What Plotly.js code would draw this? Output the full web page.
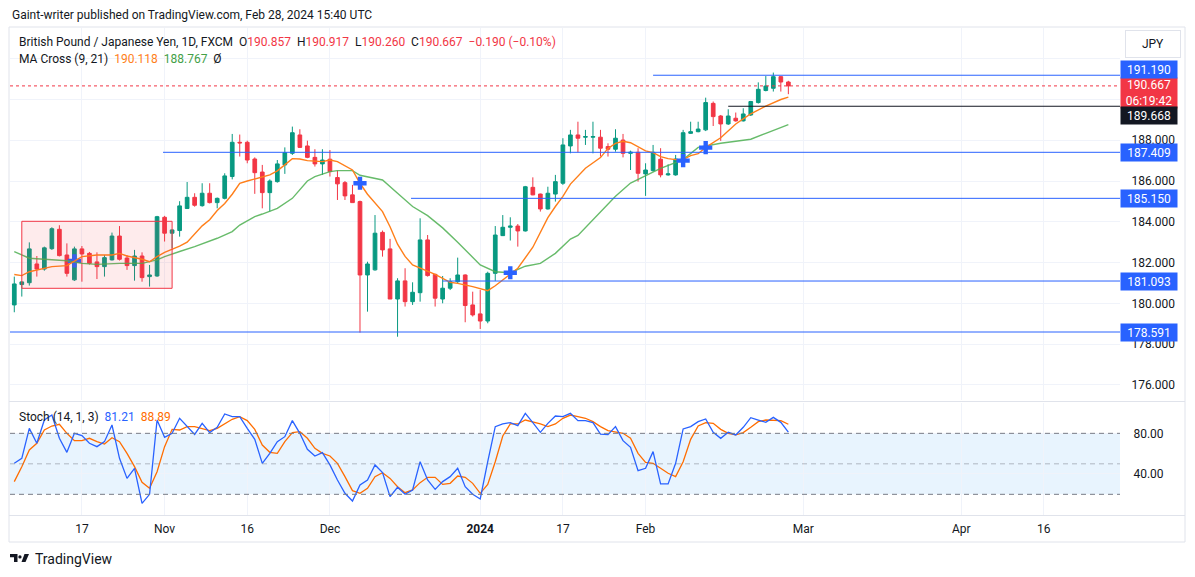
<!DOCTYPE html>
<html><head><meta charset="utf-8">
<script src="https://cdn.plot.ly/plotly-3.0.1.min.js"></script>
<style>html,body{margin:0;padding:0;background:#fff;overflow:hidden}#chart{width:1195px;height:577px}</style>
</head><body><div id="chart"></div>
<script>
// ---------- DATA ----------
const dates = ['2023-10-04','2023-10-05','2023-10-06','2023-10-09','2023-10-10','2023-10-11','2023-10-12','2023-10-13','2023-10-16','2023-10-17','2023-10-18','2023-10-19','2023-10-20','2023-10-23','2023-10-24','2023-10-25','2023-10-26','2023-10-27','2023-10-30','2023-10-31',
'2023-11-01','2023-11-02','2023-11-03','2023-11-06','2023-11-07','2023-11-08','2023-11-09','2023-11-10','2023-11-13','2023-11-14','2023-11-15','2023-11-16','2023-11-17','2023-11-20','2023-11-21','2023-11-22','2023-11-23','2023-11-24','2023-11-27','2023-11-28','2023-11-29','2023-11-30',
'2023-12-01','2023-12-04','2023-12-05','2023-12-06','2023-12-07','2023-12-08','2023-12-11','2023-12-12','2023-12-13','2023-12-14','2023-12-15','2023-12-18','2023-12-19','2023-12-20','2023-12-21','2023-12-22','2023-12-26','2023-12-27','2023-12-28','2023-12-29',
'2024-01-02','2024-01-03','2024-01-04','2024-01-05','2024-01-08','2024-01-09','2024-01-10','2024-01-11','2024-01-12','2024-01-15','2024-01-16','2024-01-17','2024-01-18','2024-01-19','2024-01-22','2024-01-23','2024-01-24','2024-01-25','2024-01-26','2024-01-29','2024-01-30','2024-01-31',
'2024-02-01','2024-02-02','2024-02-05','2024-02-06','2024-02-07','2024-02-08','2024-02-09','2024-02-12','2024-02-13','2024-02-14','2024-02-15','2024-02-16','2024-02-19','2024-02-20','2024-02-21','2024-02-22','2024-02-23','2024-02-26','2024-02-27','2024-02-28'];

const opens = [179.92,180.92,181.01,181.93,181.68,182.68,183.63,182.37,181.15,182.67,
182.45,182.03,181.80,182.13,183.30,182.22,181.85,182.32,181.31,181.34,
184.22,183.44,183.57,184.65,185.20,184.79,185.40,184.94,185.15,186.22,
187.90,187.90,187.08,186.44,185.43,185.97,186.79,187.36,188.26,187.72,
187.16,186.84,187.07,186.17,185.92,185.32,184.99,181.39,181.64,183.48,
182.67,180.21,181.10,180.08,180.52,183.11,181.42,180.21,180.74,181.06,
181.39,179.92,179.48,179.13,181.47,183.32,183.73,183.79,183.55,185.69,
185.36,184.63,185.36,185.89,187.72,188.26,188.15,188.15,188.15,187.69,
187.56,188.01,187.36,187.41,186.35,186.51,187.07,186.30,186.30,187.07,
188.34,188.42,188.51,189.81,189.19,188.80,189.08,188.95,189.24,189.85,
190.44,190.55,191.12,190.857];
const highs = [181.31,181.08,182.99,182.32,182.78,183.73,183.83,182.94,182.78,182.81,
182.52,182.50,182.37,183.47,183.79,182.37,182.62,182.50,181.88,184.29,
184.29,183.63,185.01,185.95,185.40,185.89,185.89,185.19,186.38,188.31,
188.28,187.98,187.16,186.79,186.08,187.03,187.65,188.67,188.54,187.98,
187.56,187.56,187.52,186.51,186.00,185.81,185.04,182.04,184.33,183.57,
183.16,181.23,181.72,181.03,184.17,183.35,181.45,181.34,181.23,182.24,
181.42,180.57,180.65,181.55,183.79,184.33,184.22,183.89,185.76,186.18,
185.38,185.72,186.30,188.10,188.51,188.91,188.51,188.91,188.51,187.85,
188.54,188.31,187.49,187.61,186.87,187.77,187.61,186.82,187.28,188.51,
188.91,188.91,190.09,189.90,189.24,189.52,189.36,189.57,189.93,190.84,
191.15,191.32,191.15,190.917];
const lows = [179.56,180.33,180.87,181.31,181.60,182.62,182.30,181.31,181.10,181.06,
181.90,181.19,181.31,182.10,182.10,181.64,181.11,181.06,180.82,181.30,
183.03,182.70,183.27,184.64,184.74,184.74,184.90,184.66,185.10,186.08,
187.20,186.87,185.37,184.66,184.50,185.92,186.35,187.28,187.62,187.12,
186.71,186.30,186.22,185.07,185.07,184.94,178.56,179.59,181.60,182.29,
180.21,178.36,179.84,179.92,180.08,181.31,179.84,180.00,180.65,180.98,
179.07,179.35,178.74,179.02,181.10,183.30,183.08,182.78,183.52,185.30,
184.50,184.60,184.99,185.81,187.36,187.41,187.77,187.36,187.20,187.20,
187.44,187.16,186.54,185.97,185.27,186.46,186.18,186.26,186.26,186.74,
188.31,188.39,188.45,188.70,187.97,188.75,188.91,188.92,189.19,189.80,
190.40,190.39,190.39,190.260];
const closes = [180.95,181.05,182.67,181.68,182.72,183.66,182.34,181.47,182.67,182.42,
181.96,181.80,182.24,183.30,182.16,181.85,182.32,181.26,181.39,184.25,
183.44,183.60,184.78,185.20,184.81,185.40,184.94,185.15,186.25,187.90,
187.87,187.03,186.41,185.43,186.00,186.84,187.39,188.37,187.65,187.16,
186.84,187.03,186.46,185.86,185.27,184.94,181.39,181.93,183.44,182.62,
180.21,181.10,180.08,180.54,183.11,181.36,180.25,180.74,181.06,181.39,
179.89,179.43,179.13,181.47,183.35,183.73,183.79,183.55,185.72,185.32,
184.63,185.40,185.97,187.77,188.26,188.10,188.18,188.18,187.61,187.56,
188.10,187.36,187.41,186.38,186.54,187.41,186.30,186.35,187.08,188.37,
188.42,188.55,189.85,189.16,188.80,189.19,188.95,189.29,189.90,190.50,
190.66,191.12,190.857,190.667];

// MA Cross (9, 21) lines (null = not read at that bar)
const ma9 = [181.41,181.36,181.55,null,181.72,181.80,null,181.85,null,182.29,
null,182.37,null,182.37,182.45,182.32,null,182.16,182.04,182.29,
182.50,null,182.80,183.00,null,183.80,184.10,184.55,184.90,185.35,
185.89,186.00,null,186.22,186.30,186.50,null,187.10,187.08,187.00,
null,186.95,187.03,186.95,null,186.54,185.89,185.35,null,184.50,
183.76,182.90,182.30,181.88,181.72,null,181.42,null,181.03,180.98,
null,180.82,null,180.62,180.86,null,181.44,181.72,null,182.75,
null,184.20,184.75,185.25,185.85,null,186.63,null,187.15,187.60,
187.85,187.95,187.88,null,187.48,187.39,187.20,187.10,187.05,187.05,
187.25,187.34,187.65,null,188.12,null,188.80,189.05,189.30,null,
189.68,null,190.00,190.118];
const ma21 = [182.54,182.37,182.21,null,182.16,null,null,182.09,null,181.96,
null,181.91,null,null,181.96,null,null,181.96,null,182.13,
182.29,null,182.54,null,182.78,null,null,183.19,null,183.52,
183.84,null,184.25,184.38,null,184.66,null,185.15,null,186.00,
186.22,null,186.46,186.51,null,186.51,186.28,null,null,186.05,
null,185.40,null,184.75,null,184.30,null,183.70,null,183.00,
null,null,181.88,null,181.55,null,181.50,null,181.82,null,
181.96,null,182.45,null,183.15,183.33,null,184.09,184.45,null,
185.25,null,185.90,null,null,186.46,186.62,null,null,187.05,
null,187.65,null,null,187.85,null,null,null,188.05,null,
188.34,null,null,188.767];

// Stoch (14, 1, 3)
const stochK = [50.5,55.4,84.9,70.2,93.1,98.0,75.1,61.3,80.0,77.7,
70.2,66.9,71.8,88.2,55.4,35.7,45.6,11.1,20.0,93.1,
76.1,80.0,94.8,86.6,79.0,89.8,80.7,85.9,99.0,96.4,
96.4,84.9,74.1,50.5,60.3,71.8,76.7,92.5,80.0,64.3,
57.7,61.0,48.9,34.1,21.0,13.4,29.2,34.1,48.9,41.3,
17.7,26.9,20.0,24.3,52.1,34.1,24.9,32.5,37.4,45.6,
27.5,20.0,15.4,52.1,86.6,89.2,90.5,87.5,99.7,90.5,
81.0,89.8,97.0,96.4,99.7,92.5,92.5,90.5,79.3,78.7,
86.6,72.8,66.2,43.3,45.6,62.0,30.2,30.2,50.5,84.3,
86.6,91.5,94.1,81.0,75.1,81.0,78.4,85.9,95.4,93.1,
90.8,95.7,90.8,81.21];
const stochD = [32.5,47.2,63.6,70.2,83.3,87.2,88.9,80.0,72.8,72.8,
75.1,71.8,69.5,75.7,71.8,60.3,47.2,31.8,25.9,42.3,
66.9,83.9,83.3,86.6,86.6,84.9,82.6,84.9,89.2,93.8,
96.4,92.5,83.9,68.5,61.3,60.3,71.8,80.7,81.6,75.1,
65.2,60.3,57.7,50.5,37.4,23.6,21.0,25.9,37.4,41.3,
35.7,27.5,21.6,24.3,31.5,36.7,36.7,29.8,30.8,38.0,
36.7,30.8,21.0,29.8,52.1,77.4,89.2,89.2,93.1,91.5,
89.2,86.6,89.2,94.8,98.0,96.4,94.8,91.5,86.6,82.6,
81.0,80.0,75.1,60.3,51.5,50.5,45.6,40.7,37.4,52.1,
74.1,87.2,90.5,89.8,83.9,80.0,78.4,80.7,85.9,91.5,
93.1,93.1,92.5,88.89];

// MA cross markers
const crossDates = ['2023-12-07','2024-01-08','2024-02-08','2024-02-13'];
const crossPrices = [185.89,181.50,187.00,187.64];
const hiddenCrossDates = ['2023-10-16'];
const hiddenCrossPrices = [182.08];

// Drawn horizontal levels
const levelPrices = [191.190,187.409,185.150,181.093,178.591];
const levelStarts = ['2024-02-02 12:00','2023-11-01 07:00','2023-12-18 07:00','2023-12-22 12:00','2023-10-01 12:00'];
const supportPrice = 189.668;
const supportStart = '2024-02-16 12:00';
// Consolidation rectangle
const rectDates = ['2023-10-05 12:00','2023-11-02 12:00'];
const rectPrices = [180.736,184.023];

// Axis ticks
const xTickDates = ['2023-10-17','2023-11-01','2023-11-16','2023-12-01','2024-01-02','2024-01-17','2024-02-01','2024-03-01','2024-04-01','2024-04-16'];
const xTickText = ['17','Nov','16','Dec','<b>2024</b>','17','Feb','Mar','Apr','16'];
const priceTicks = [176,178,180,182,184,186,188,190,192];
const priceTickShown = [true,true,true,true,true,true,true,false,false];
const stochTicks = [40,80];
const countdown = '06:19:42';
const author = 'Gaint-writer published on TradingView.com, Feb 28, 2024 15:40 UTC';
const symbolTitle = 'British Pound / Japanese Yen, 1D, FXCM';

// ---------- LAYOUT HELPERS ----------
const L = 10, R = 1120, T = 28, B = 515;
const px = x => (x - L) / (R - L);
const py = y => (B - y) / (B - T);
const noon = d => d + ' 12:00';
const FONT = 'Roboto, "Liberation Sans", Arial, sans-serif';
const UP = '#089981', DOWN = '#f23645', BLUE = '#2962ff', ORANGE = '#ff7f1a', DARK = '#131722';

const xs = dates.map(noon);
const n = closes.length;

const traces = [
  {type:'scatter', mode:'markers', x: hiddenCrossDates.map(noon), y: hiddenCrossPrices, xaxis:'x', yaxis:'y',
   marker:{symbol:'cross', size:11, color:BLUE, line:{width:0}}, hoverinfo:'skip'},
  {type:'candlestick', x: xs, open: opens, high: highs, low: lows, close: closes, xaxis:'x', yaxis:'y',
   increasing:{line:{color:UP, width:1}, fillcolor:UP}, decreasing:{line:{color:DOWN, width:1}, fillcolor:DOWN},
   whiskerwidth:0, hoverinfo:'skip'},
  {type:'scatter', mode:'lines', x: xs, y: ma21, connectgaps:true, xaxis:'x', yaxis:'y',
   line:{color:'rgba(76,175,80,0.85)', width:1.4}, hoverinfo:'skip'},
  {type:'scatter', mode:'lines', x: xs, y: ma9, connectgaps:true, xaxis:'x', yaxis:'y',
   line:{color:ORANGE, width:1.4}, hoverinfo:'skip'},
  {type:'scatter', mode:'markers', x: crossDates.map(noon), y: crossPrices, xaxis:'x', yaxis:'y',
   marker:{symbol:'cross', size:11, color:BLUE, line:{width:0}}, hoverinfo:'skip'},
  {type:'scatter', mode:'lines', x: xs, y: stochD, xaxis:'x', yaxis:'y2',
   line:{color:'#ff6d00', width:1.3}, hoverinfo:'skip'},
  {type:'scatter', mode:'lines', x: xs, y: stochK, xaxis:'x', yaxis:'y2',
   line:{color:BLUE, width:1.3}, hoverinfo:'skip'}
];

const shapes = [
  {type:'rect', xref:'paper', x0:0, x1:1, yref:'y2', y0:20, y1:80, fillcolor:'rgba(33,150,243,0.1)', line:{width:0}, layer:'below'},
  {type:'line', xref:'paper', x0:0, x1:1, yref:'y2', y0:80, y1:80, line:{color:'#787b86', width:1, dash:'5px,4px'}},
  {type:'line', xref:'paper', x0:0, x1:1, yref:'y2', y0:50, y1:50, line:{color:'rgba(120,123,134,0.5)', width:1, dash:'5px,4px'}},
  {type:'line', xref:'paper', x0:0, x1:1, yref:'y2', y0:20, y1:20, line:{color:'#787b86', width:1, dash:'5px,4px'}},
  {type:'rect', xref:'x', yref:'y', x0:rectDates[0], x1:rectDates[1], y0:rectPrices[0], y1:rectPrices[1],
   fillcolor:'rgba(242,54,69,0.1)', line:{color:'#f23645', width:1}},
  {type:'line', xref:'paper', x0:0, x1:1, yref:'y', y0:closes[n-1], y1:closes[n-1], line:{color:'#f23645', width:1, dash:'dot'}},
  {type:'line', xref:'x', yref:'y', x0:supportStart, x1:'2024-05-10 12:00', y0:supportPrice, y1:supportPrice, line:{color:DARK, width:1}},
  // pane separator and frame
  {type:'line', xref:'paper', yref:'paper', x0:px(9), x1:px(1185), y0:py(401.5), y1:py(401.5), line:{color:'#e0e3eb', width:1}},
  {type:'line', xref:'paper', yref:'paper', x0:px(9), x1:px(1185), y0:py(515.5), y1:py(515.5), line:{color:'#e0e3eb', width:1}},
  {type:'rect', xref:'paper', yref:'paper', x0:px(9), x1:px(1185), y0:py(542), y1:py(27), line:{color:'#e0e3eb', width:1}},
  // TradingView logo
  {type:'path', xref:'paper', yref:'paper', fillcolor:DARK, line:{width:0},
   path:`M${px(10)},${py(554)} L${px(17.5)},${py(554)} L${px(17.5)},${py(562)} L${px(14)},${py(562)} L${px(14)},${py(557.3)} L${px(10)},${py(557.3)} Z`},
  {type:'circle', xref:'paper', yref:'paper', fillcolor:DARK, line:{width:0}, x0:px(18.3), x1:px(21.6), y0:py(558.6), y1:py(555.3)},
  {type:'path', xref:'paper', yref:'paper', fillcolor:DARK, line:{width:0},
   path:`M${px(24.5)},${py(554)} L${px(29)},${py(554)} L${px(25.5)},${py(562)} L${px(21.5)},${py(562)} Z`}
];
levelPrices.forEach((p, i) => {
  shapes.push({type:'line', xref:'x', yref:'y', x0:levelStarts[i], x1:'2024-05-10 12:00', y0:p, y1:p, line:{color:BLUE, width:1}});
});

// price scale label boxes
const sp = '\u00a0';
const fmt3 = v => v.toFixed(3);
const lastO = opens[n-1], lastH = highs[n-1], lastL = lows[n-1], lastC = closes[n-1];
const chg = lastC - closes[n-2];
const pct = chg / closes[n-2] * 100;
const red = t => `<span style="color:#f23645">${t}</span>`;

const labelBox = (price, text, bg, shift, h) => ({
  xref:'paper', x:1, xanchor:'left', xshift:0, yref:'y', y:price, yanchor:'middle', yshift:shift,
  text:text, showarrow:false, bgcolor:bg, font:{color:'#ffffff', size:12, family:FONT},
  width:52, height:h||13, borderpad:2, align:'center'
});
const levelShifts = [6, 0, 0, 0, 0];

const annotations = [
  {xref:'paper', yref:'paper', x:px(10), y:py(14.5), xanchor:'left', yanchor:'middle', showarrow:false,
   text:author, font:{size:12, color:DARK, family:FONT}},
  {xref:'paper', yref:'paper', x:px(17), y:py(42), xanchor:'left', yanchor:'middle', showarrow:false,
   text: symbolTitle + sp+sp + 'O' + red(fmt3(lastO)) + sp+sp + 'H' + red(fmt3(lastH)) + sp+sp + 'L' + red(fmt3(lastL)) + sp+sp + 'C' + red(fmt3(lastC)) + sp+sp +
     red((chg<0?'\u2212':'+') + Math.abs(chg).toFixed(3) + ' (' + (pct<0?'\u2212':'+') + Math.abs(pct).toFixed(2) + '%)'),
   font:{size:12, color:DARK, family:FONT}},
  {xref:'paper', yref:'paper', x:px(17), y:py(58.5), xanchor:'left', yanchor:'middle', showarrow:false,
   text:'MA Cross (9, 21)' + sp+sp + `<span style="color:${ORANGE}">${fmt3(ma9[n-1])}</span>` + sp+sp + `<span style="color:#43a047">${fmt3(ma21[n-1])}</span>` + sp+sp + '\u00d8',
   font:{size:12, color:DARK, family:FONT}},
  {xref:'paper', yref:'paper', x:px(17), y:py(416.5), xanchor:'left', yanchor:'middle', showarrow:false,
   text:'Stoch (14, 1, 3)' + sp+sp + `<span style="color:${BLUE}">${stochK[n-1].toFixed(2)}</span>` + sp+sp + `<span style="color:#ff6d00">${stochD[n-1].toFixed(2)}</span>`,
   font:{size:12, color:DARK, family:FONT}},
  {xref:'paper', yref:'paper', x:px(1125), y:py(44), xanchor:'left', yanchor:'middle', showarrow:false,
   text:'JPY', bgcolor:'#ffffff', bordercolor:'#e0e3eb', borderwidth:1, borderpad:3, width:48, height:20,
   font:{size:12, color:DARK, family:FONT}},
  {xref:'paper', yref:'paper', x:px(33), y:py(559), xanchor:'left', yanchor:'middle', showarrow:false,
   text:'TradingView', font:{size:14, color:DARK, family:FONT}},
  labelBox(lastC, fmt3(lastC) + '<br>' + countdown, '#f23645', 8 - 15, 26),
  labelBox(supportPrice, fmt3(supportPrice), DARK, -9.5)
];
levelPrices.forEach((p, i) => annotations.push(labelBox(p, fmt3(p), BLUE, levelShifts[i])));

const layout = {
  width:1195, height:577,
  margin:{l:L, r:1195-R, t:T, b:577-B, pad:0},
  paper_bgcolor:'#ffffff', plot_bgcolor:'#ffffff',
  showlegend:false, hovermode:false,
  font:{family:FONT, size:12, color:DARK},
  xaxis:{type:'date', anchor:'y2', range:['2023-10-03 22:19','2024-04-30 15:07'],
    rangebreaks:[{bounds:['sat','mon']},{values:['2023-12-25','2024-01-01']}],
    tickmode:'array', tickvals:xTickDates.map(noon), ticktext:xTickText,
    showgrid:true, gridcolor:'#f0f3fa', gridwidth:1, zeroline:false, showline:false,
    ticks:'outside', ticklen:3, tickcolor:'rgba(0,0,0,0)', tickfont:{size:12, color:DARK, family:FONT},
    rangeslider:{visible:false}, fixedrange:true},
  yaxis:{domain:[(B-400)/(B-T), 1], range:[175.255, 193.508], side:'right', anchor:'x',
    tickmode:'array', tickvals:priceTicks, ticktext:priceTicks.map((v,i)=>priceTickShown[i]?v.toFixed(3):''),
    showgrid:true, gridcolor:'#f0f3fa', zeroline:false, showline:false,
    ticks:'outside', ticklen:8, tickcolor:'rgba(0,0,0,0)', tickfont:{size:12, color:DARK, family:FONT}, fixedrange:true},
  yaxis2:{domain:[0, (B-403)/(B-T)], range:[-0.34, 109.83], side:'right', anchor:'x',
    tickmode:'array', tickvals:stochTicks, ticktext:stochTicks.map(v=>v.toFixed(2)),
    showgrid:true, gridcolor:'#f0f3fa', zeroline:false, showline:false,
    ticks:'outside', ticklen:10, tickcolor:'rgba(0,0,0,0)', tickfont:{size:12, color:DARK, family:FONT}, fixedrange:true},
  shapes:shapes,
  annotations:annotations
};

Plotly.newPlot('chart', traces, layout, {displayModeBar:false, staticPlot:true});
</script>
</body></html>
